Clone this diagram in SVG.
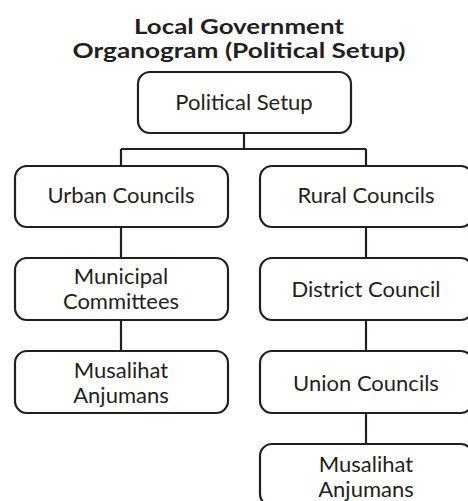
<svg xmlns="http://www.w3.org/2000/svg" width="468" height="501" viewBox="0 0 468 501">
<style>
.box{fill:#fff;stroke:#231f20;stroke-width:2.2}
.t{font-family:Lato,"Liberation Sans",sans-serif;font-size:22px;fill:#231f20;text-anchor:middle}
.h{font-family:Lato,"Liberation Sans",sans-serif;font-size:20px;font-weight:bold;fill:#231f20;text-anchor:middle}
.c{fill:none;stroke:#231f20;stroke-width:2.2}
</style>
<rect width="468" height="501" fill="#fff"/>
<g id="title">
<text class="h" x="239" y="34" textLength="210" lengthAdjust="spacingAndGlyphs">Local Government</text>
<text class="h" x="239" y="58" textLength="333" lengthAdjust="spacingAndGlyphs">Organogram (Political Setup)</text>
</g>
<g id="connectors">
<path class="c" d="M244 133V149M121 149H366M121 149V166M366 149V166"/>
<path class="c" d="M121 227V258M121 320V351"/>
<path class="c" d="M366 227V258M366 320V351M366 413V444"/>
</g>
<g id="political"><rect class="box" x="138" y="72" width="213" height="61" rx="12"/><text class="t" x="244" y="110">Political Setup</text></g>
<g id="urban"><rect class="box" x="15" y="166" width="213" height="61" rx="12"/><text class="t" x="121" y="203">Urban Councils</text></g>
<g id="rural"><rect class="box" x="260" y="166" width="213" height="61" rx="12"/><text class="t" x="366" y="203">Rural Councils</text></g>
<g id="municipal"><rect class="box" x="15" y="258" width="213" height="62" rx="12"/><text class="t" x="121" y="284">Municipal</text><text class="t" x="121" y="309">Committees</text></g>
<g id="district"><rect class="box" x="260" y="258" width="213" height="62" rx="12"/><text class="t" x="366" y="297">District Council</text></g>
<g id="musalihat-urban"><rect class="box" x="15" y="351" width="213" height="62" rx="12"/><text class="t" x="121" y="378">Musalihat</text><text class="t" x="121" y="403">Anjumans</text></g>
<g id="union"><rect class="box" x="260" y="351" width="213" height="62" rx="12"/><text class="t" x="366" y="391">Union Councils</text></g>
<g id="musalihat-rural"><rect class="box" x="260" y="444" width="213" height="62" rx="12"/><text class="t" x="366" y="472">Musalihat</text><text class="t" x="366" y="497">Anjumans</text></g>
</svg>
